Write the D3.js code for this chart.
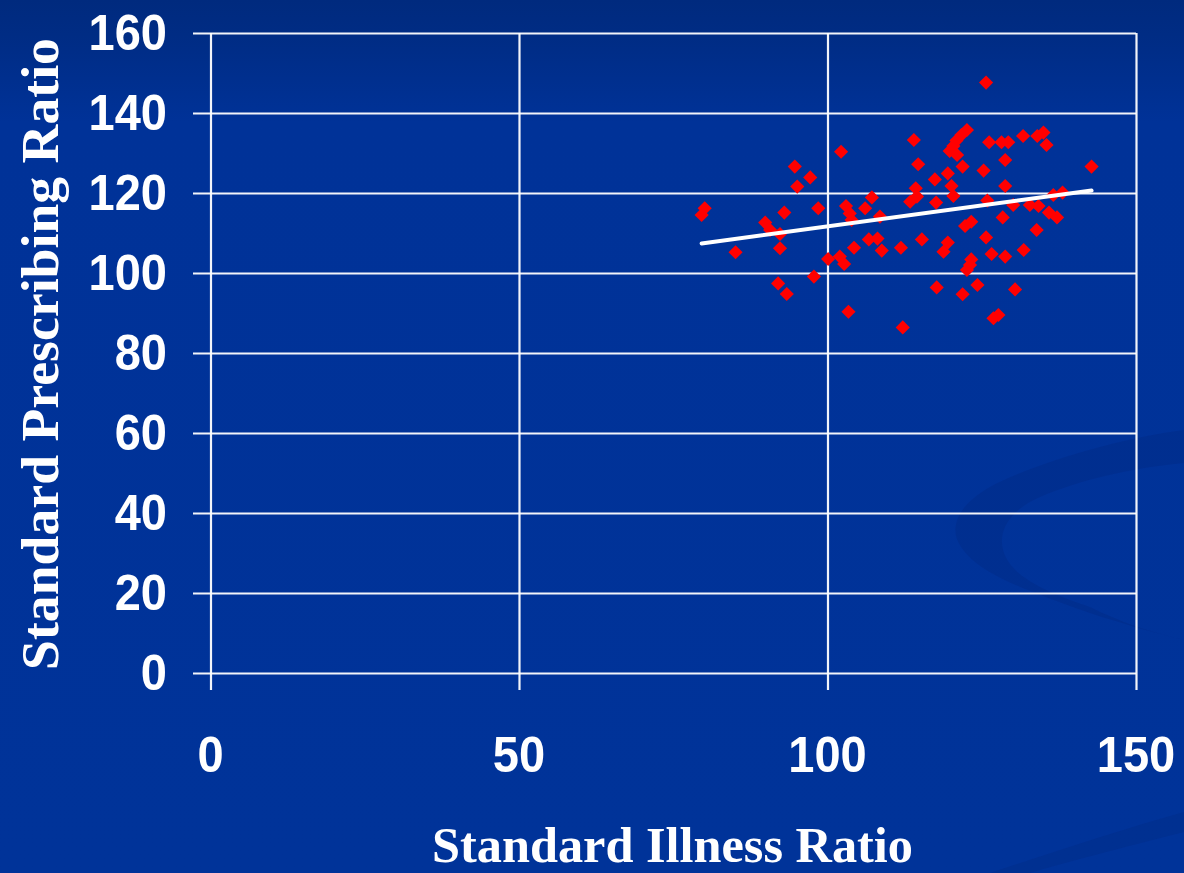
<!DOCTYPE html>
<html><head><meta charset="utf-8">
<script src="https://cdn.jsdelivr.net/npm/d3@7"></script>
<style>html,body{margin:0;padding:0;background:#003399;overflow:hidden}</style>
</head><body><svg id="c" width="1184" height="873"></svg>
<script>
// ---- data ----
const xTicks = [0, 50, 100, 150];
const yTicks = [0, 20, 40, 60, 80, 100, 120, 140, 160];
const xTitle = "Standard Illness Ratio";
const yTitle = "Standard Prescribing Ratio";
const sir = [102.2,94.7,97.2,95.1,107.2,80.1,79.6,93.0,98.5,103.0,103.6,106.1,108.5,103.9,89.9,90.7,92.3,85.1,92.3,104.3,106.7,108.1,108.8,111.9,100.1,102.0,102.7,97.8,92.0,93.4,103.4,112.2,
  125.7,114.0,122.6,121.7,120.9,120.4,119.8,121.0,126.2,128.2,129.3,131.7,134.0,135.0,135.5,114.7,128.8,121.9,125.3,119.5,117.4,142.8,120.1,114.3,128.8,120.4,114.5,113.4,117.6,136.6,138.1,125.9,130.1,
  132.8,134.2,135.9,137.2,128.4,123.3,122.3,133.9,115.3,125.7,119.5,118.8,126.6,128.8,131.8,123.3,123.1,122.6,117.7,124.3,121.9,130.4,127.7,126.9];
const spr = [130.3,126.6,123.9,121.6,118.9,116.2,114.5,115.1,116.2,116.75,114.9,116.2,114.1,113.25,112.6,110.75,109.75,105.2,106.2,106.3,108.4,108.6,105.6,106.3,103.5,104.1,102.25,99.1,97.4,94.75,90.3,86.4,
  147.6,133.25,135.75,134.5,133.1,131.75,130.5,129.5,132.7,132.7,132.7,134.25,134.25,135.1,132,127.2,128.25,126.6,125.6,124.9,123.4,126.6,121.75,121.2,121.75,119.25,119.1,117.8,117.6,119.5,120.1,118.1,117,
  117,116.75,115.1,113.9,113.9,112.8,111.75,110.75,108.4,108.9,107.6,105.3,104.75,104.1,105.75,103.4,102,100.75,96.4,97,94.7,95.9,89.5,88.7];
const trendX = [79.6, 142.8];
const trendY = [107.4, 120.6];

// ---- layout ----
const svg = d3.select("#c");
const W = 1184, H = 873;
const x = d3.scaleLinear().domain([0, 150]).range([210.5, 1136]);
const y = d3.scaleLinear().domain([0, 160]).range([673, 33]);

// background
const defs = svg.append("defs");
const g1 = defs.append("linearGradient").attr("id","bg").attr("x1",0).attr("y1",0).attr("x2",0).attr("y2",1);
g1.append("stop").attr("offset","0").attr("stop-color","#002a7e");
g1.append("stop").attr("offset","0.04").attr("stop-color","#002c84");
g1.append("stop").attr("offset","0.14").attr("stop-color","#003298");
g1.append("stop").attr("offset","1").attr("stop-color","#003399");
svg.append("rect").attr("width",W).attr("height",H).attr("fill","url(#bg)");
// swirl decoration (crescent)
svg.append("path")
  .attr("d","M1184,430 C1120,438 1030,465 990,487 C955,507 950,530 960,545 C975,570 1010,585 1090,613 C1130,626 1160,634 1184,640 " +
            "C1150,632 1120,622 1090,607 C1040,590 1010,575 1003,550 C998,530 1010,510 1040,497 C1080,480 1130,468 1184,463 Z")
  .attr("fill","#002c88").attr("fill-opacity",0.55);
svg.append("path")
  .attr("d","M990,873 C1060,850 1120,830 1184,812 L1184,832 C1120,848 1060,864 1030,873 Z")
  .attr("fill","#002d88").attr("fill-opacity",0.45);

// horizontal grid (with left tick stubs)
svg.append("g").attr("transform","translate(193,0)")
  .call(d3.axisLeft(y).tickValues(yTicks).tickSize(-(1136-193)).tickFormat(""))
  .call(g => g.select(".domain").remove())
  .call(g => g.selectAll("line").attr("stroke","#ffffff").attr("stroke-width",2.2).attr("stroke-opacity",0.95));
// vertical grid (with bottom tick stubs)
svg.append("g").attr("transform","translate(0,690)")
  .call(d3.axisBottom(x).tickValues(xTicks).tickSize(-(690-33)).tickFormat(""))
  .call(g => g.select(".domain").remove())
  .call(g => g.selectAll("line").attr("stroke","#ffffff").attr("stroke-width",2.2).attr("stroke-opacity",0.95));

// tick labels
const lblFont = "'Liberation Sans', Arial, sans-serif";
svg.append("g").selectAll("text").data(yTicks).join("text")
  .attr("transform", d => `translate(167,${y(d)+17}) scale(1,1.08)`)
  .attr("text-anchor","end").attr("fill","#fff").attr("font-family",lblFont)
  .attr("font-weight","bold").attr("font-size",47).text(d => d);
svg.append("g").selectAll("text").data(xTicks).join("text")
  .attr("transform", d => `translate(${x(d)},772) scale(1,1.08)`)
  .attr("text-anchor","middle").attr("fill","#fff").attr("font-family",lblFont)
  .attr("font-weight","bold").attr("font-size",47).text(d => d);

// axis titles
const ttlFont = "'Liberation Serif', 'Times New Roman', serif";
svg.append("text").attr("x",672.5).attr("y",862).attr("text-anchor","middle")
  .attr("fill","#fff").attr("font-family",ttlFont).attr("font-weight","bold")
  .attr("font-size",50).attr("textLength",481).attr("lengthAdjust","spacingAndGlyphs").text(xTitle);
svg.append("text").attr("transform","translate(58,354) rotate(-90)").attr("text-anchor","middle")
  .attr("fill","#fff").attr("font-family",ttlFont).attr("font-weight","bold")
  .attr("font-size",52).attr("textLength",632).attr("lengthAdjust","spacingAndGlyphs").text(yTitle);

// points
const pts = sir.map((v,i) => [v, spr[i]]);
const sym = d3.symbol(d3.symbolSquare, 100);
svg.append("g").selectAll("path").data(pts).join("path")
  .attr("d", sym)
  .attr("transform", d => `translate(${x(d[0])},${y(d[1])}) rotate(45)`)
  .attr("fill","#ff0000");

// trend line
svg.append("path").datum(trendX.map((v,i) => [v, trendY[i]]))
  .attr("d", d3.line().x(d => x(d[0])).y(d => y(d[1])))
  .attr("stroke","#ffffff").attr("stroke-width",4).attr("fill","none").attr("stroke-linecap","round");
</script></body></html>
